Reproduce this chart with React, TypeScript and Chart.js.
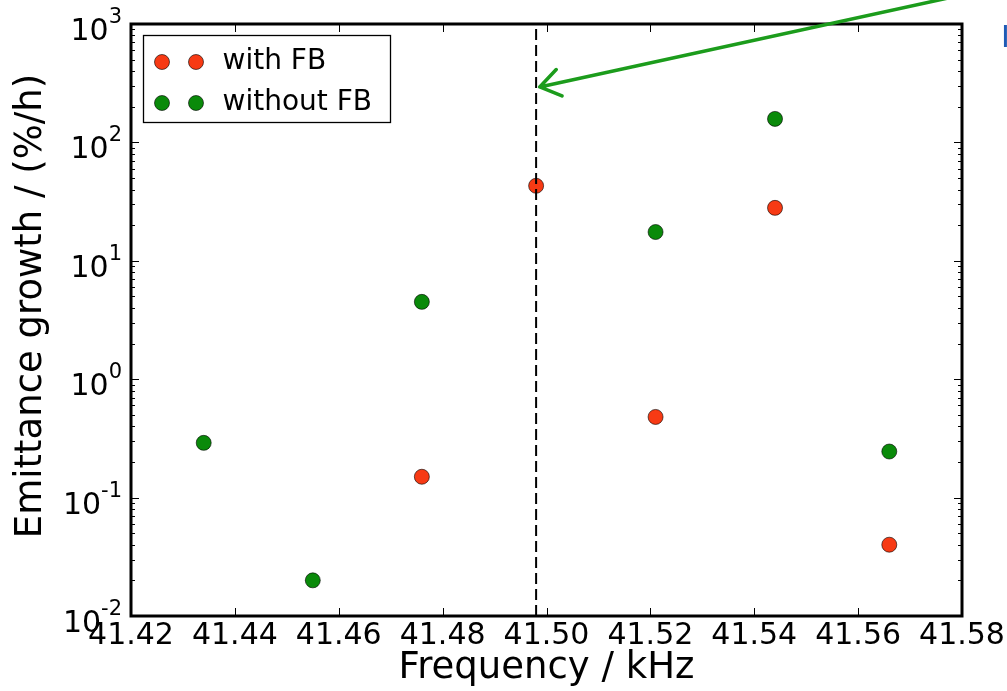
import { useEffect, useRef } from 'react';
import { Chart, registerables } from 'chart.js';

Chart.register(...registerables);

// ---- data ----
const xTickValues = [41.42, 41.44, 41.46, 41.48, 41.5, 41.52, 41.54, 41.56, 41.58];
const yDecades = [-2, -1, 0, 1, 2, 3];
const withFBFreq = [41.476, 41.498, 41.521, 41.544, 41.566];
const withFBGrowth = [0.15, 43, 0.48, 28, 0.04];
const withoutFBFreq = [41.434, 41.455, 41.476, 41.521, 41.544, 41.566];
const withoutFBGrowth = [0.29, 0.02, 4.5, 17.5, 158, 0.245];
const markerFreq = [41.498];
const arrowTip = [41.4987, 294];
const arrowTail = [41.5844, 1937];

const FONT = "'DejaVu Sans', 'Liberation Sans', sans-serif";
const RED = '#f73a14';
const GREEN = '#0a8a0a';

const decoPlugin = {
  id: 'deco',
  afterDraw(chart: any) {
    const { ctx, chartArea: a, scales } = chart;
    const xs = scales.x;
    const ys = scales.y;
    ctx.save();

    // ticks inside frame
    ctx.strokeStyle = '#000';
    ctx.lineWidth = 1;
    ctx.beginPath();
    for (const v of xTickValues) {
      const px = Math.round(xs.getPixelForValue(v)) + 0.5;
      ctx.moveTo(px, a.bottom);
      ctx.lineTo(px, a.bottom - 8);
      ctx.moveTo(px, a.top);
      ctx.lineTo(px, a.top + 8);
    }
    for (const k of yDecades) {
      const py = Math.round(ys.getPixelForValue(Math.pow(10, k))) + 0.5;
      ctx.moveTo(a.left, py);
      ctx.lineTo(a.left + 8, py);
      ctx.moveTo(a.right, py);
      ctx.lineTo(a.right - 8, py);
      if (k < 3) {
        for (let m = 2; m <= 9; m++) {
          const pm = Math.round(ys.getPixelForValue(m * Math.pow(10, k))) + 0.5;
          ctx.moveTo(a.left, pm);
          ctx.lineTo(a.left + 4, pm);
          ctx.moveTo(a.right, pm);
          ctx.lineTo(a.right - 4, pm);
        }
      }
    }
    ctx.stroke();

    // frame
    ctx.lineWidth = 3;
    ctx.strokeRect(a.left, a.top, a.right - a.left, a.bottom - a.top);

    // y tick labels 10^k
    ctx.fillStyle = '#000';
    for (const k of yDecades) {
      const py = ys.getPixelForValue(Math.pow(10, k));
      const exp = String(k);
      ctx.font = `21px ${FONT}`;
      ctx.textAlign = 'right';
      ctx.textBaseline = 'alphabetic';
      const ew = ctx.measureText(exp).width;
      const ex = a.left - 9;
      ctx.fillText(exp, ex, py - 1);
      ctx.font = `30px ${FONT}`;
      ctx.fillText('10', ex - ew, py + 16);
    }

    // y title
    ctx.save();
    ctx.translate(31, (a.top + a.bottom) / 2 - 14);
    ctx.rotate(-Math.PI / 2);
    ctx.font = `37px ${FONT}`;
    ctx.textAlign = 'center';
    ctx.textBaseline = 'middle';
    ctx.fillText('Emittance growth / (%/h)', 0, 0);
    ctx.restore();

    // legend
    const lx = a.left + 12.5;
    const ly = a.top + 11.5;
    const lw = 247;
    const lh = 87;
    ctx.fillStyle = '#fff';
    ctx.fillRect(lx, ly, lw, lh);
    ctx.strokeStyle = '#000';
    ctx.lineWidth = 1.3;
    ctx.strokeRect(lx, ly, lw, lh);
    const entries = [
      { label: chart.data.datasets[1].label, color: RED, y: ly + 26.5 },
      { label: chart.data.datasets[2].label, color: GREEN, y: ly + 67.5 },
    ];
    for (const e of entries) {
      for (const mx of [lx + 18.5, lx + 52.5]) {
        ctx.beginPath();
        ctx.arc(mx, e.y, 7.5, 0, Math.PI * 2);
        ctx.fillStyle = e.color;
        ctx.fill();
        ctx.lineWidth = 1;
        ctx.strokeStyle = 'rgba(0,0,0,0.6)';
        ctx.stroke();
      }
      ctx.fillStyle = '#000';
      ctx.font = `28px ${FONT}`;
      ctx.textAlign = 'left';
      ctx.textBaseline = 'alphabetic';
      ctx.fillText(e.label, lx + 79, e.y + 7);
    }

    // green arrow
    const tx = xs.getPixelForValue(arrowTip[0]);
    const ty = ys.getPixelForValue(arrowTip[1]);
    const sx = xs.getPixelForValue(arrowTail[0]);
    const sy = ys.getPixelForValue(arrowTail[1]);
    const ang = Math.atan2(sy - ty, sx - tx);
    ctx.strokeStyle = '#1c9c1c';
    ctx.lineWidth = 3.5;
    ctx.lineCap = 'round';
    ctx.lineJoin = 'round';
    ctx.beginPath();
    ctx.moveTo(sx, sy);
    ctx.lineTo(tx, ty);
    const hl = 24;
    const spread = 0.6;
    ctx.moveTo(tx + hl * Math.cos(ang - spread), ty + hl * Math.sin(ang - spread));
    ctx.lineTo(tx, ty);
    ctx.lineTo(tx + hl * Math.cos(ang + spread), ty + hl * Math.sin(ang + spread));
    ctx.stroke();

    // cut-off blue text at the right edge
    ctx.fillStyle = '#1f5bb5';
    ctx.font = `30px ${FONT}`;
    ctx.textAlign = 'left';
    ctx.textBaseline = 'alphabetic';
    ctx.fillText('I', 1001, 47);

    ctx.restore();
  },
};

export default function App() {
  const ref = useRef<HTMLCanvasElement | null>(null);
  useEffect(() => {
    if (!ref.current) return;
    const chart = new Chart(ref.current, {
      type: 'scatter',
      data: {
        datasets: [
          {
            type: 'line',
            label: 'marker',
            data: [
              { x: markerFreq[0], y: 0.01 },
              { x: markerFreq[0], y: 1000 },
            ],
            borderColor: '#000',
            borderWidth: 2,
            borderDash: [11, 5],
            pointRadius: 0,
            fill: false,
            order: 0,
          } as any,
          {
            label: 'with FB',
            data: withFBFreq.map((x, i) => ({ x, y: withFBGrowth[i] })),
            backgroundColor: RED,
            borderColor: 'rgba(0,0,0,0.6)',
            borderWidth: 1,
            pointRadius: 7.5,
            order: 1,
          },
          {
            label: 'without FB',
            data: withoutFBFreq.map((x, i) => ({ x, y: withoutFBGrowth[i] })),
            backgroundColor: GREEN,
            borderColor: 'rgba(0,0,0,0.6)',
            borderWidth: 1,
            pointRadius: 7.5,
            order: 2,
          },
        ],
      },
      options: {
        animation: false,
        responsive: false,
        layout: { padding: { top: 24, right: 45, left: 0, bottom: 0 } },
        plugins: { legend: { display: false }, tooltip: { enabled: false } },
        scales: {
          x: {
            type: 'linear',
            min: 41.42,
            max: 41.58,
            grid: { display: false, drawTicks: false },
            border: { display: false },
            afterBuildTicks: (scale: any) => {
              scale.ticks = xTickValues.map((v) => ({ value: v }));
            },
            afterFit: (scale: any) => {
              scale.height = 75;
            },
            ticks: {
              autoSkip: false,
              maxRotation: 0,
              padding: 2,
              color: '#000',
              font: { family: FONT, size: 30 },
              callback: (v: any) => Number(v).toFixed(2),
            },
            title: {
              display: true,
              text: 'Frequency / kHz',
              color: '#000',
              font: { family: FONT, size: 37 },
              padding: { top: 0, bottom: 0 },
            },
          },
          y: {
            type: 'logarithmic',
            min: 0.01,
            max: 1000,
            grid: { display: false, drawTicks: false },
            border: { display: false },
            ticks: { display: false },
            afterFit: (scale: any) => {
              scale.width = 131;
            },
          },
        },
      },
      plugins: [decoPlugin],
    });
    return () => chart.destroy();
  }, []);
  return (
    <div style={{ position: 'fixed', left: 0, top: 0, width: 1007, height: 691, background: '#fff' }}>
      <canvas ref={ref} width={1007} height={691} />
    </div>
  );
}
